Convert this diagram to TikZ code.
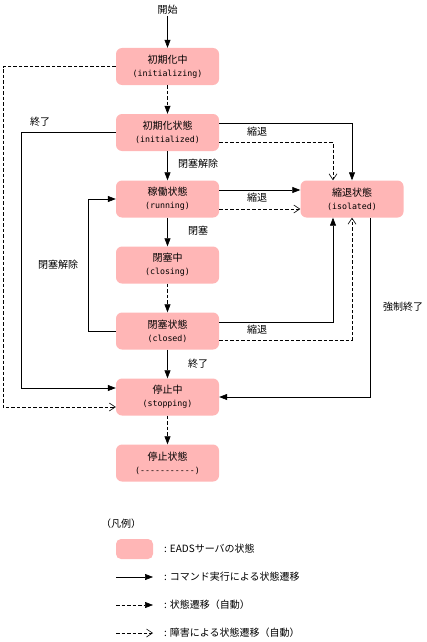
\documentclass[tikz,border=0pt]{standalone}
\usepackage{fontspec}
\setmainfont{Noto Sans CJK JP}
\newfontfamily\monofont{DejaVu Sans Mono}
\usetikzlibrary{arrows.meta,positioning}
\definecolor{statepink}{RGB}{255,182,182}
\newcommand{\en}[1]{{\monofont\fontsize{8.3}{13}\selectfont #1}}

\begin{document}
\begin{tikzpicture}[x=1pt,y=-1pt,font=\fontsize{10}{13}\selectfont,
  state/.style={fill=statepink, rounded corners=6pt, minimum width=103pt, minimum height=37pt, align=center, inner sep=0pt},
  lbl/.style={inner sep=1pt},
  cmdtr/.style={-{Triangle[length=8pt,width=6pt]}, line width=0.6pt},
  autotr/.style={cmdtr, dash pattern=on 3.5pt off 2pt},
  faulttr/.style={-{Straight Barb[length=6pt,width=8pt]}, line width=0.6pt, dash pattern=on 3.5pt off 2pt}]
\useasboundingbox (0,0) rectangle (427,642);
\node[lbl] (start) at (167.5,10) {開始};
\node[state] (initing) at (167.5,66.5) {初期化中\\\en{(initializing)}};
\node[state] (inited) at (167.5,132.5) {初期化状態\\\en{(initialized)}};
\node[state] (running) at (167.5,199) {稼働状態\\\en{(running)}};
\node[state] (isolated) at (352,199) {縮退状態\\\en{(isolated)}};
\node[state] (closing) at (167.5,265) {閉塞中\\\en{(closing)}};
\node[state] (closed) at (167.5,331) {閉塞状態\\\en{(closed)}};
\node[state] (stopping) at (167.5,397) {停止中\\\en{(stopping)}};
\node[state] (stopped) at (167.5,463) {停止状態\\\en{(-----------)}};
\node[lbl] (lend) at (40,122) {終了};
\node[lbl] (lunblock1) at (198,164) {閉塞解除};
\node[lbl] (lblock) at (198,231) {閉塞};
\node[lbl] (lunblock2) at (58,265) {閉塞解除};
\node[lbl] (lend2) at (198,364) {終了};
\node[lbl] (ldeg1) at (257,132) {縮退};
\node[lbl] (ldeg2) at (257,198) {縮退};
\node[lbl] (ldeg3) at (257,330) {縮退};
\node[lbl] (lkill) at (403,307) {強制終了};
\draw[cmdtr] (start) -- (initing);
\draw[autotr] (initing) -- (inited);
\draw[faulttr] (initing.west) -- ++(-113,0) |- ([yshift=-10pt]stopping.west);
\draw[cmdtr] (inited.west) -- ++(-95,0) |- ([yshift=9pt]stopping.west);
\draw[cmdtr] (inited) -- (running);
\draw[cmdtr] ([yshift=9.5pt]inited.east) -| (isolated.north);
\draw[faulttr] ([yshift=-10pt]inited.east) -| ([xshift=-19pt]isolated.north);
\draw[cmdtr] ([yshift=9pt]running.east) -- ([yshift=9pt]isolated.west);
\draw[faulttr] ([yshift=-10pt]running.east) -- ([yshift=-10pt]isolated.west);
\draw[cmdtr] (running) -- (closing);
\draw[autotr] (closing) -- (closed);
\draw[cmdtr] (closed.west) -- ++(-28,0) |- (running.west);
\draw[cmdtr] ([yshift=9pt]closed.east) -| ([xshift=-19pt]isolated.south);
\draw[faulttr] ([yshift=-9pt]closed.east) -| (isolated.south);
\draw[cmdtr] (closed) -- (stopping);
\draw[cmdtr] ([xshift=18pt]isolated.south) |- (stopping.east);
\draw[autotr] (stopping) -- (stopped);
\node[lbl, anchor=west] (legend) at (100,524) {（凡例）};
\node[state, minimum width=37pt, minimum height=20pt, rounded corners=5pt] (lgbox) at (134.5,549) {};
\node[lbl, anchor=west] (lgtxt1) at (163,549) {: EADSサーバの状態};
\coordinate (lga1) at (116,577);
\coordinate (lgb1) at (153,577);
\draw[cmdtr] (lga1) -- (lgb1);
\node[lbl, anchor=west] (lgtxt2) at (163,577) {: コマンド実行による状態遷移};
\coordinate (lga2) at (116,605);
\coordinate (lgb2) at (153,605);
\draw[autotr] (lga2) -- (lgb2);
\node[lbl, anchor=west] (lgtxt3) at (163,605) {: 状態遷移（自動）};
\coordinate (lga3) at (116,633);
\coordinate (lgb3) at (153,633);
\draw[faulttr] (lga3) -- (lgb3);
\node[lbl, anchor=west] (lgtxt4) at (163,633) {: 障害による状態遷移（自動）};
\end{tikzpicture}
\end{document}
